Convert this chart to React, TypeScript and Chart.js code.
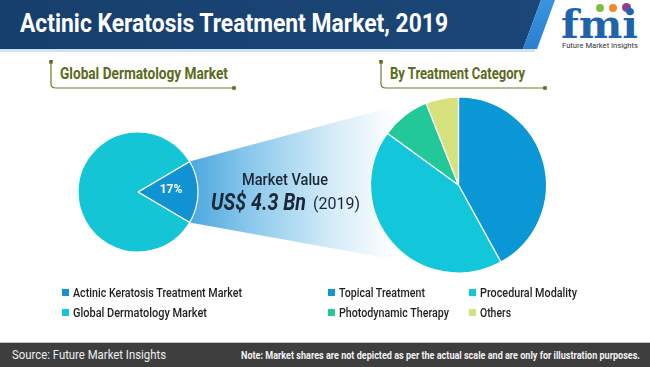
import React, { useEffect, useLayoutEffect, useRef } from "react";
import { Chart, registerables } from "chart.js";

Chart.register(...registerables);

const TITLE = "Actinic Keratosis Treatment Market, 2019";
const LEFT_HEADING = "Global Dermatology Market";
const RIGHT_HEADING = "By Treatment Category";

const LEFT_LABELS = ["Actinic Keratosis Treatment Market", "Global Dermatology Market"];
const LEFT_VALUES = [17, 83];
const LEFT_COLORS = ["#1192d3", "#14c5d6"];
const LEFT_LEGEND_WIDTHS = [169, 134];

const RIGHT_LABELS = ["Topical Treatment", "Procedural Modality", "Photodynamic Therapy", "Others"];
const RIGHT_VALUES = [42, 43, 9, 6];
const RIGHT_COLORS = ["#0b97d5", "#13c7da", "#22c898", "#d6e07c"];
const RIGHT_LEGEND_WIDTHS = [86, 97, 110, 31];

const MARKET_VALUE_LABEL = "Market Value";
const MARKET_VALUE = "US$ 4.3 Bn";
const MARKET_YEAR = "(2019)";

const SOURCE = "Source: Future Market Insights";
const NOTE = "Note: Market shares are not depicted as per the actual scale and are only for illustration purposes.";

const SANS = 'Roboto, "Noto Sans", sans-serif';

function FitText(props: { text: string; left: number; top: number; width: number; style?: React.CSSProperties }) {
  const ref = useRef<HTMLSpanElement>(null);
  useLayoutEffect(() => {
    const el = ref.current;
    if (!el) return;
    el.style.transform = "none";
    const w = el.getBoundingClientRect().width;
    if (w > 0) el.style.transform = `scaleX(${props.width / w})`;
  }, [props.text, props.width]);
  return (
    <span
      ref={ref}
      style={{
        position: "absolute",
        left: props.left,
        top: props.top,
        whiteSpace: "nowrap",
        display: "inline-block",
        transformOrigin: "left top",
        fontFamily: SANS,
        ...props.style,
      }}
    >
      {props.text}
    </span>
  );
}

export default function App() {
  const leftRef = useRef<HTMLCanvasElement>(null);
  const rightRef = useRef<HTMLCanvasElement>(null);

  useEffect(() => {
    document.body.style.margin = "0";
    const total = LEFT_VALUES.reduce((a, b) => a + b, 0);
    const rotation = 90 - ((LEFT_VALUES[0] / total) * 360) / 2;

    const funnelPlugin = {
      id: "funnel",
      beforeDatasetsDraw(chart: any) {
        const arc: any = chart.getDatasetMeta(0).data[0];
        if (!arc) return;
        const { x, y, startAngle, endAngle, outerRadius } = arc.getProps(["x", "y", "startAngle", "endAngle", "outerRadius"], true);
        const ctx = chart.ctx;
        const w = chart.width;
        const p0 = { x: x + outerRadius * Math.cos(startAngle), y: y + outerRadius * Math.sin(startAngle) };
        const p1 = { x: x + outerRadius * Math.cos(endAngle), y: y + outerRadius * Math.sin(endAngle) };
        ctx.save();
        const g = ctx.createLinearGradient(p0.x, 0, w - 5, 0);
        g.addColorStop(0, "#4aa7dd");
        g.addColorStop(0.3, "#8cc9ec");
        g.addColorStop(0.7, "#d5ecf8");
        g.addColorStop(1, "#ffffff");
        ctx.fillStyle = g;
        ctx.beginPath();
        ctx.moveTo(x, y);
        ctx.lineTo(p0.x, p0.y);
        ctx.lineTo(w, p0.y - (w - p0.x) * 0.27);
        ctx.lineTo(w, p1.y + (w - p1.x) * 0.18);
        ctx.lineTo(p1.x, p1.y);
        ctx.closePath();
        ctx.fill();
        ctx.restore();
      },
      afterDatasetsDraw(chart: any) {
        const arc: any = chart.getDatasetMeta(0).data[0];
        if (!arc) return;
        const c = arc.getCenterPoint();
        const ctx = chart.ctx;
        ctx.save();
        ctx.fillStyle = "#ffffff";
        ctx.font = "bold 12px Roboto, sans-serif";
        ctx.textAlign = "center";
        ctx.textBaseline = "middle";
        ctx.fillText(Math.round((LEFT_VALUES[0] / total) * 100) + "%", c.x + 3, c.y - 2);
        ctx.restore();
      },
    };

    const left = new Chart(leftRef.current!, {
      type: "pie",
      data: {
        labels: LEFT_LABELS,
        datasets: [{ data: LEFT_VALUES, backgroundColor: LEFT_COLORS, borderColor: "#ffffff", borderWidth: 1.2, hoverOffset: 0 }],
      },
      options: {
        animation: false,
        responsive: false,
        rotation,
        radius: 60,
        layout: { padding: { left: 0, right: 124, top: 24, bottom: 0 } },
        plugins: { legend: { display: false }, tooltip: { enabled: false } },
        events: [],
      },
      plugins: [funnelPlugin],
    });

    const right = new Chart(rightRef.current!, {
      type: "pie",
      data: {
        labels: RIGHT_LABELS,
        datasets: [{ data: RIGHT_VALUES, backgroundColor: RIGHT_COLORS, borderColor: "#ffffff", borderWidth: 1.2, hoverOffset: 0 }],
      },
      options: {
        animation: false,
        responsive: false,
        radius: 88,
        layout: { padding: 0 },
        plugins: { legend: { display: false }, tooltip: { enabled: false } },
        events: [],
      },
    });

    return () => {
      left.destroy();
      right.destroy();
    };
  }, []);

  const legendItem = (label: string, color: string, left: number, top: number, width: number) => (
    <React.Fragment key={label}>
      <span style={{ position: "absolute", left, top: top + 4, width: 7, height: 7, background: color }} />
      <FitText text={label} left={left + 11} top={top} width={width} style={{ fontSize: 13, color: "#1e1e1e", lineHeight: "15px", fontWeight: 500 }} />
    </React.Fragment>
  );

  const bracket = (x: number, x2: number) => (
    <svg style={{ position: "absolute", left: 0, top: 0 }} width={650} height={100}>
      <path d={`M ${x} 62 L ${x} 84 Q ${x} 88 ${x + 5} 88 L ${x2} 88`} stroke="#6f7d2c" strokeWidth={1.2} fill="none" />
      <rect x={x - 1.8} y={60} width={3.6} height={3.6} fill="#5f6e22" />
      <rect x={x2 - 1.8} y={86.2} width={3.6} height={3.6} fill="#5f6e22" />
    </svg>
  );

  return (
    <div style={{ position: "fixed", left: 0, top: 0, width: 650, height: 367, background: "#ffffff", overflow: "hidden" }}>
      {/* header */}
      <svg style={{ position: "absolute", left: 0, top: 0 }} width={650} height={56}>
        <defs>
          <linearGradient id="hg" x1="0" y1="0" x2="1" y2="0">
            <stop offset="0" stopColor="#173f6d" />
            <stop offset="1" stopColor="#1a4778" />
          </linearGradient>
          <linearGradient id="sg" x1="0" y1="0" x2="0" y2="1">
            <stop offset="0" stopColor="#3b93e0" />
            <stop offset="1" stopColor="#2a7fcf" />
          </linearGradient>
        </defs>
        <rect x={0} y={49} width={535} height={3} fill="#cfe3f3" />
        <polygon points="0,0 541,0 523,49 0,49" fill="url(#hg)" />
        <polygon points="541,0 555,0 537,49 523,49" fill="url(#sg)" />
      </svg>
      <FitText text={TITLE} left={20} top={9} width={428} style={{ color: "#ffffff", fontWeight: 700, fontSize: 25, lineHeight: "30px" }} />

      {/* logo */}
      <div style={{ position: "absolute", left: 596, top: 4, width: 8, height: 8, borderRadius: 4, background: "#7cc242" }} />
      <div style={{ position: "absolute", left: 609, top: 4, width: 8, height: 8, borderRadius: 4, background: "#f08a24" }} />
      <div style={{ position: "absolute", left: 622, top: 3, width: 9, height: 9, borderRadius: 5, background: "#8a3f98" }} />
      <FitText text="fmi" left={561} top={2} width={77} style={{ fontFamily: '"DejaVu Serif", serif', fontWeight: 700, fontSize: 40, lineHeight: "44px", color: "#1f63ad" }} />
      <FitText text="Future Market Insights" left={562} top={41} width={76} style={{ fontSize: 8, color: "#333", lineHeight: "10px" }} />

      {/* headings */}
      {bracket(51, 234)}
      {bracket(381, 545)}
      <FitText text={LEFT_HEADING} left={60} top={64} width={168} style={{ fontWeight: 700, fontSize: 16, color: "#5a6b1c", lineHeight: "20px" }} />
      <FitText text={RIGHT_HEADING} left={390} top={64} width={135} style={{ fontWeight: 700, fontSize: 16, color: "#5a6b1c", lineHeight: "20px" }} />

      {/* charts */}
      <canvas ref={leftRef} width={400} height={240} style={{ position: "absolute", left: 0, top: 60, width: 400, height: 240 }} />
      <canvas ref={rightRef} width={257} height={250} style={{ position: "absolute", left: 330, top: 60, width: 257, height: 250 }} />

      {/* market value */}
      <FitText text={MARKET_VALUE_LABEL} left={242} top={169} width={86} style={{ fontSize: 17, color: "#1d2636", lineHeight: "20px", fontWeight: 500 }} />
      <FitText text={MARKET_VALUE} left={211} top={188} width={95} style={{ fontWeight: 700, fontStyle: "italic", fontSize: 24, color: "#1d2636", lineHeight: "28px" }} />
      <FitText text={MARKET_YEAR} left={313} top={192} width={47} style={{ fontSize: 17, color: "#1d2636", lineHeight: "22px" }} />

      {/* legends */}
      {LEFT_LABELS.map((l, i) => legendItem(l, LEFT_COLORS[i], 62, 285 + i * 20, LEFT_LEGEND_WIDTHS[i]))}
      {RIGHT_LABELS.map((l, i) =>
        legendItem(l, RIGHT_COLORS[i], i % 2 === 0 ? 328 : 469, 285 + Math.floor(i / 2) * 20, RIGHT_LEGEND_WIDTHS[i])
      )}

      {/* footer */}
      <div style={{ position: "absolute", left: 0, top: 342, width: 650, height: 1, background: "#bdbdbd" }} />
      <div style={{ position: "absolute", left: 0, top: 343, width: 650, height: 24, background: "#3e3e3e" }} />
      <FitText text={SOURCE} left={12} top={346} width={154} style={{ fontSize: 13, color: "#eeeeee", lineHeight: "17px" }} />
      <FitText text={NOTE} left={241} top={349} width={399} style={{ fontWeight: 700, fontSize: 10.5, color: "#f2f2f2", lineHeight: "13px" }} />
    </div>
  );
}
